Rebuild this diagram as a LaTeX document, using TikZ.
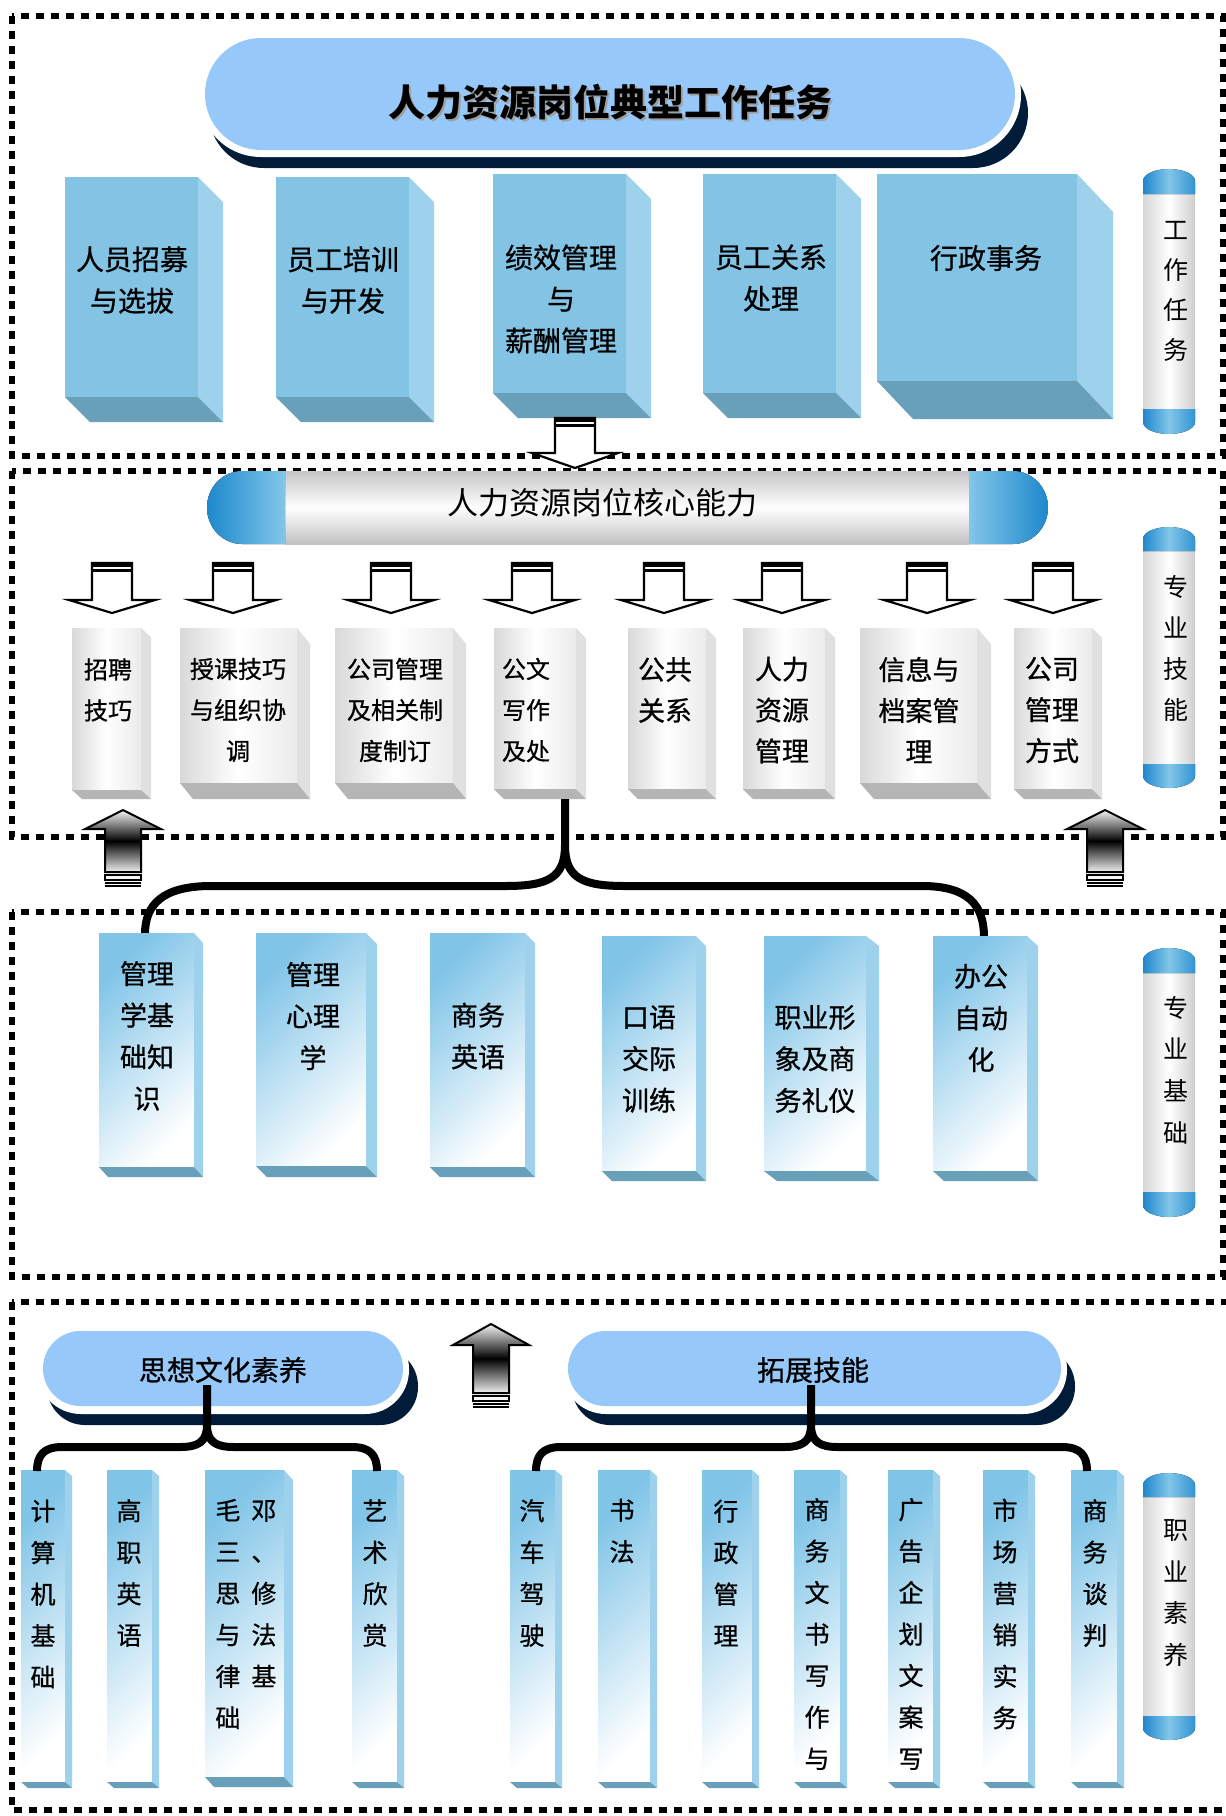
\documentclass[tikz,border=0pt]{standalone}
\usepackage{fontspec}
\setmainfont{Noto Sans CJK SC}
\newfontfamily\cjkm[FakeBold=0.7]{Noto Sans CJK SC}
\usetikzlibrary{calc}
\definecolor{pillblue}{RGB}{150,200,250}
\definecolor{navy}{RGB}{0,28,56}
\definecolor{bfront}{RGB}{131,195,228}
\definecolor{bside}{RGB}{157,209,236}
\definecolor{bbottom}{RGB}{104,160,186}
\definecolor{capdark}{RGB}{30,136,204}
\definecolor{caplight}{RGB}{130,198,234}
\definecolor{lblue}{RGB}{128,196,231}
\tikzset{
  frame/.style={line width=3pt, dash pattern=on 4pt off 3.5pt},
  brace/.style={line width=4pt, line cap=butt, line join=round},
  lbl/.style={inner sep=0pt, align=center, text=black},
  afront/.style={fill=bfront}, aside/.style={fill=bside}, abot/.style={fill=bbottom},
  gfront/.style={left color=gray!30, right color=gray!16, middle color=white},
  gside/.style={fill=gray!24}, gbot/.style={fill=gray!58},
  lfront/.style={top color=lblue, bottom color=white, shading angle=45},
  lside/.style={fill=bside}, lbot/.style={fill=bbottom},
}
\newcommand\drawcube[7]{%
  \path[#7front] (#1,#3) rectangle (#2,#4);
  \path[#7side] (#2,#3) -- (#2+#5,#3+#6) -- (#2+#5,#4+#6) -- (#2,#4) -- cycle;
  \path[#7bot] (#1,#4) -- (#2,#4) -- (#2+#5,#4+#6) -- (#1+#5,#4+#6) -- cycle;
}
\newcommand\downblock[4]{% cx, top, base, tip
  \draw[line width=1.1pt, fill=white, line join=miter] (#1-20,#2) -- (#1-20,#3) -- (#1-43,#3) -- (#1,#4) -- (#1+43,#3) -- (#1+20,#3) -- (#1+20,#2) -- cycle;
  \fill (#1-20,#2) rectangle (#1+20,#2+4);
  \fill (#1-20,#2+6) rectangle (#1+20,#2+8.5);
}
\newcommand\upblock[4]{% cx, tip, base, bottom
  \draw[line width=1pt, top color=gray!8, bottom color=gray!12, middle color=black] (#1,#2) -- (#1+38,#3) -- (#1+18,#3) -- (#1+18,#4) -- (#1-18,#4) -- (#1-18,#3) -- (#1-38,#3) -- cycle;
  \draw[line width=0.8pt, fill=gray!8] (#1-18,#4+3) rectangle (#1+18,#4+8);
  \fill (#1-18,#4+10) rectangle (#1+18,#4+11.5);
  \fill (#1-18,#4+13) rectangle (#1+18,#4+14.5);
}
\newcommand\drawcyl[3]{% top, bottom, cap
  \fill[left color=gray!32, right color=gray!38, middle color=white] (1143,#1+#3) rectangle (1195,#2-#3);
  \fill[left color=capdark, right color=capdark!80!caplight, middle color=caplight] (1143,#1+#3) -- (1143,#1+12) arc[start angle=180,end angle=360,x radius=26,y radius=12] -- (1195,#1+#3) -- cycle;
  \fill[left color=capdark, right color=capdark!80!caplight, middle color=caplight] (1143,#2-#3) -- (1143,#2-12) arc[start angle=180,end angle=0,x radius=26,y radius=12] -- (1195,#2-#3) -- cycle;
}
\begin{document}
\begin{tikzpicture}[x=0.5pt,y=-0.5pt]
\useasboundingbox (0,0) rectangle (1226,1816);
\fill[white] (0,0) rectangle (1226,1816);
\begin{scope}
\clip (0,0) rectangle (1226,1816);
% frames
\draw[frame] (12,16) rectangle (1223,456);
\draw[frame] (12,471) rectangle (1223,837);
\draw[frame] (12,912) rectangle (1223,1277);
\draw[frame] (12,1302) rectangle (1245,1810);
\end{scope}

% ===== Section 1 =====
\fill[navy, rounded corners=27.5pt] (209,58) rectangle (1028,168);
\fill[white, rounded corners=31pt] (199,32) rectangle (1021,157);
\fill[pillblue, rounded corners=28pt] (205,38) rectangle (1015,150);
\node[lbl, text=gray!75, font=\fontsize{18.5}{20}\selectfont\bfseries] (titlesh) at (612,104) {人力资源岗位典型工作任务};
\node[lbl, font=\fontsize{18.5}{20}\selectfont\bfseries] (title) at (610,102) {人力资源岗位典型工作任务};

\drawcube{65}{198}{177}{397}{25}{25}{a}
\drawcube{276}{409}{177}{397}{25}{25}{a}
\drawcube{493}{626}{174}{393}{25}{25}{a}
\drawcube{703}{836}{174}{393}{25}{25}{a}
\drawcube{877}{1077}{174}{381}{36}{38}{a}
\begin{scope}[every node/.style={lbl, font=\cjkm\fontsize{14}{20.75}\selectfont}]
\node (t1) at (132,280) {人员招募\\与选拔};
\node (t2) at (343,280) {员工培训\\与开发};
\node (t3) at (561,299) {绩效管理\\与\\薪酬管理};
\node (t4) at (771,278) {员工关系\\处理};
\node (t5) at (986,258) {行政事务};
\end{scope}

\drawcyl{169}{434}{25}
\node[lbl, font=\fontsize{12.5}{20}\selectfont] (cy1) at (1176,291) {工\\作\\任\\务};

\downblock{575}{418}{453}{468}

% ===== Section 2 =====
\fill[top color=gray!45, bottom color=gray!48, middle color=white] (285,471) rectangle (969,544);
\fill[left color=capdark, right color=caplight] (285,471) -- (242,471) arc[start angle=270,end angle=90,x radius=35,y radius=36.5] -- (285,544) -- cycle;
\fill[left color=caplight, right color=capdark] (969,471) -- (1013,471) arc[start angle=270,end angle=450,x radius=35,y radius=36.5] -- (969,544) -- cycle;
\node[lbl, font=\fontsize{15.5}{18}\selectfont] (core) at (602,503) {人力资源岗位核心能力};

\foreach \cx in {112,233,391,532,664,782,927,1053}{\downblock{\cx}{563}{600}{613}}

\drawcube{72}{141}{628}{790}{10}{9}{g}
\drawcube{180}{297}{628}{783}{13}{16}{g}
\drawcube{335}{453}{628}{783}{13}{16}{g}
\drawcube{494}{576}{628}{789}{10}{10}{g}
\drawcube{628}{706}{628}{789}{10}{10}{g}
\drawcube{743}{825}{628}{789}{10}{10}{g}
\drawcube{860}{977}{628}{783}{14}{16}{g}
\drawcube{1014}{1092}{628}{789}{10}{10}{g}
\begin{scope}[every node/.style={lbl, font=\cjkm\fontsize{12}{20.5}\selectfont}]
\node (g1) at (108,690) {招聘\\技巧};
\node (g2) at (238,710) {授课技巧\\与组织协\\调};
\node (g3) at (395,710) {公司管理\\及相关制\\度制订};
\node (g4) at (526,710) {公文\\写作\\及处};
\end{scope}
\begin{scope}[every node/.style={lbl, font=\cjkm\fontsize{13.5}{20.5}\selectfont}]
\node (g5) at (665,690) {公共\\关系};
\node (g6) at (782,710) {人力\\资源\\管理};
\node (g7) at (919,710) {信息与\\档案管\\理};
\node (g8) at (1052,710) {公司\\管理\\方式};
\end{scope}

\drawcyl{527}{788}{24}
\node[lbl, font=\fontsize{12.5}{20.5}\selectfont] (cy2) at (1176,648) {专\\业\\技\\能};

\upblock{123}{810}{829}{872}
\upblock{1105}{810}{829}{872}

% brace S2 -> S3
\coordinate (g4b) at (565,799);
\coordinate (c1t) at (145,934);
\coordinate (c6t) at (984,937);
\coordinate (bj) at (565,845);
\draw[brace] (g4b) -- (bj) .. controls (565,878) and (548,886) .. (505,886) -- (211,886) .. controls (162,886) and (145,905) .. (c1t);
\draw[brace] (bj) .. controls (565,878) and (582,886) .. (625,886) -- (922,886) .. controls (968,886) and (984,905) .. (c6t);

% ===== Section 3 =====
\drawcube{99}{194}{933}{1167}{9}{10}{l}
\drawcube{256}{366}{933}{1166}{11}{11}{l}
\drawcube{430}{525}{933}{1167}{10}{10}{l}
\drawcube{602}{696}{936}{1171}{10}{10}{l}
\drawcube{764}{866}{936}{1171}{13}{10}{l}
\drawcube{933}{1027}{936}{1171}{11}{10}{l}
\begin{scope}[every node/.style={lbl, font=\cjkm\fontsize{13.5}{20.8}\selectfont}]
\node (c1) at (147,1036) {管理\\学基\\础知\\识};
\node (c2) at (313,1016) {管理\\心理\\学};
\node (c3) at (478,1036) {商务\\英语};
\node (c4) at (649,1059) {口语\\交际\\训练};
\node (c5) at (815,1059) {职业形\\象及商\\务礼仪};
\node (c6) at (981,1018) {办公\\自动\\化};
\end{scope}

\drawcyl{948}{1217}{25}
\node[lbl, font=\fontsize{12.5}{20.8}\selectfont] (cy3) at (1176,1070) {专\\业\\基\\础};

% ===== Section 4 =====
\fill[navy, rounded corners=19pt] (47,1348) rectangle (418,1425);
\fill[white, rounded corners=22pt] (37,1325) rectangle (409,1414);
\fill[pillblue, rounded corners=18.75pt] (43,1331) rectangle (403,1406);
\fill[navy, rounded corners=19pt] (572,1348) rectangle (1075,1425);
\fill[white, rounded corners=22pt] (562,1325) rectangle (1067,1414);
\fill[pillblue, rounded corners=18.75pt] (568,1331) rectangle (1061,1406);
\node[lbl, font=\cjkm\fontsize{14}{16}\selectfont] (p1) at (223,1370) {思想文化素养};
\node[lbl, font=\cjkm\fontsize{14}{16}\selectfont] (p2) at (813,1370) {拓展技能};

\upblock{491}{1324}{1345}{1393}

\drawcube{21}{65}{1470}{1782}{7}{6}{l}
\drawcube{107}{152}{1470}{1782}{7}{6}{l}
\drawcube{205}{284}{1470}{1777}{9}{10}{l}
\drawcube{352}{397}{1470}{1782}{7}{6}{l}
\drawcube{510}{555}{1470}{1782}{7}{6}{l}
\drawcube{598}{650}{1470}{1782}{7}{6}{l}
\drawcube{702}{752}{1470}{1782}{7}{6}{l}
\drawcube{794}{840}{1470}{1782}{7}{6}{l}
\drawcube{888}{933}{1470}{1782}{7}{6}{l}
\drawcube{983}{1028}{1470}{1782}{7}{6}{l}
\drawcube{1071}{1117}{1470}{1782}{7}{6}{l}

% braces S4
\coordinate (p1b) at (207,1385);
\coordinate (p2b) at (811,1385);
\coordinate (d1t) at (37,1471);
\coordinate (d4t) at (377,1471);
\coordinate (d5t) at (536,1471);
\coordinate (d11t) at (1087,1471);
\draw[brace] (p1b) -- (207,1425) .. controls (207,1442) and (198,1447) .. (180,1447) -- (62,1447) .. controls (44,1447) and (37,1455) .. (d1t);
\draw[brace] (207,1425) .. controls (207,1442) and (216,1447) .. (234,1447) -- (352,1447) .. controls (370,1447) and (377,1455) .. (d4t);
\draw[brace] (p2b) -- (811,1425) .. controls (811,1442) and (802,1447) .. (784,1447) -- (561,1447) .. controls (543,1447) and (536,1455) .. (d5t);
\draw[brace] (811,1425) .. controls (811,1442) and (820,1447) .. (838,1447) -- (1062,1447) .. controls (1080,1447) and (1087,1455) .. (d11t);

\begin{scope}[every node/.style={lbl, font=\cjkm\fontsize{12.5}{20.75}\selectfont}]
\node (d1) at (43,1594) {计\\算\\机\\基\\础};
\node (d2) at (129,1573) {高\\职\\英\\语};
\node[align=left, anchor=west] (d3) at (215,1614) {毛\hspace{5.5pt}邓\\三\hspace{5.5pt}、\\思\hspace{5.5pt}修\\与\hspace{5.5pt}法\\律\hspace{5.5pt}基\\础};
\node (d4) at (375,1573) {艺\\术\\欣\\赏};
\node (d5) at (532,1573) {汽\\车\\驾\\驶};
\node (d6) at (622,1531) {书\\法};
\node (d7) at (726,1573) {行\\政\\管\\理};
\node (d8) at (817,1634) {商\\务\\文\\书\\写\\作\\与};
\node (d9) at (911,1634) {广\\告\\企\\划\\文\\案\\写};
\node (d10) at (1005,1614) {市\\场\\营\\销\\实\\务};
\node (d11) at (1095,1573) {商\\务\\谈\\判};
\end{scope}

\drawcyl{1473}{1740}{24}
\node[lbl, font=\fontsize{12.5}{20.8}\selectfont] (cy4) at (1176,1593) {职\\业\\素\\养};
\end{tikzpicture}
\end{document}
